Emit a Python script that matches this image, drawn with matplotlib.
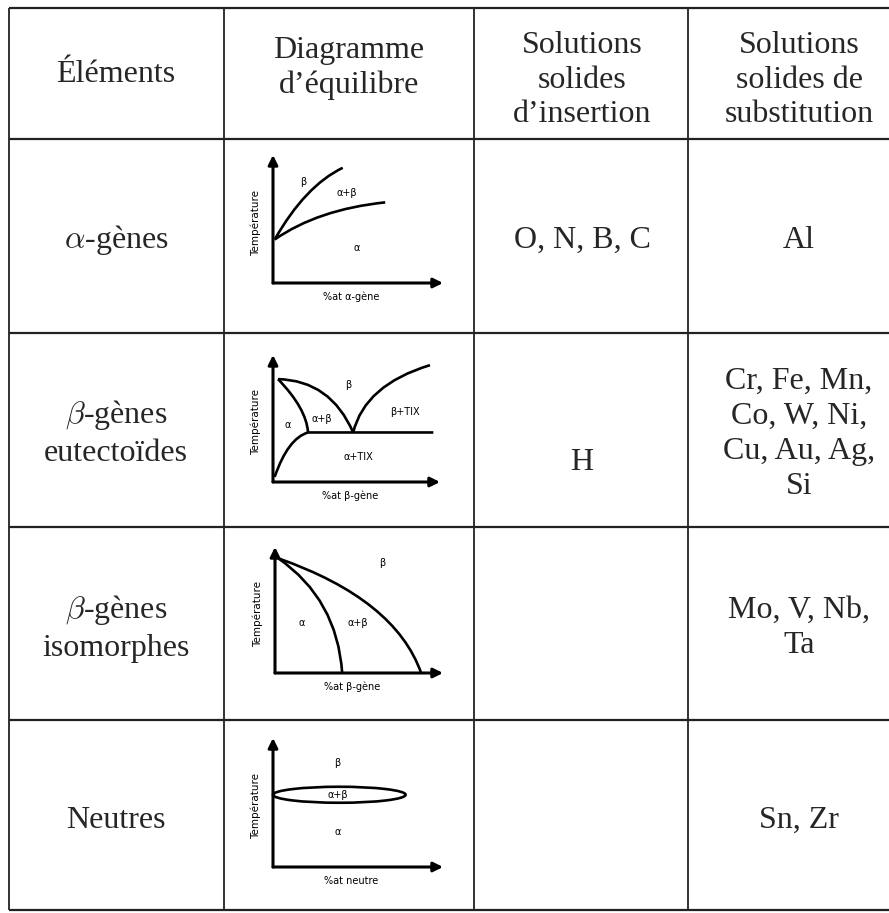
import matplotlib
matplotlib.use("Agg")
import matplotlib.pyplot as plt
from matplotlib.path import Path
from matplotlib.patches import PathPatch, Ellipse

plt.rcParams['font.family'] = ['Liberation Serif', 'DejaVu Serif']
plt.rcParams['mathtext.fontset'] = 'cm'

W, H = 889, 913

# table content
headers = ["Éléments", "Diagramme\nd’équilibre", "Solutions\nsolides\nd’insertion",
           "Solutions\nsolides de\nsubstitution"]
elements = [r"$\alpha$-gènes", "$\\beta$-gènes\neutectoïdes", "$\\beta$-gènes\nisomorphes", "Neutres"]
insertion = ["O, N, B, C", "H", "", ""]
substitution = ["Al", "Cr, Fe, Mn,\nCo, W, Ni,\nCu, Au, Ag,\nSi", "Mo, V, Nb,\nTa", "Sn, Zr"]
xlabels = ["%at α-gène", "%at β-gène", "%at β-gène", "%at neutre"]

# phase boundaries (normalised diagram coords: start, control, end of quadratic curves)
d1_curves = [[(0.01, 0.34), (0.19, 0.76), (0.41, 0.90)],
             [(0.01, 0.34), (0.265, 0.575), (0.66, 0.63)]]
d1_labels = [("β", 0.18, 0.79), ("α+β", 0.435, 0.70), ("α", 0.49, 0.27)]

d2_curves = [[(0.03, 0.81), (0.345, 0.80), (0.48, 0.39)],
             [(0.03, 0.81), (0.20, 0.58), (0.21, 0.39)],
             [(0.01, 0.04), (0.09, 0.345), (0.21, 0.39)],
             [(0.48, 0.39), (0.55, 0.765), (0.94, 0.92)],
             [(0.21, 0.39), (0.585, 0.39), (0.96, 0.39)]]
d2_labels = [("β", 0.45, 0.76), ("α", 0.09, 0.45), ("α+β", 0.29, 0.50),
             ("β+TIX", 0.79, 0.55), ("α+TIX", 0.51, 0.20)]

d3_curves = [[(0.02, 0.91), (0.37, 0.585), (0.40, 0.0)],
             [(0.02, 0.91), (0.715, 0.585), (0.87, 0.0)]]
d3_labels = [("β", 0.64, 0.87), ("α", 0.16, 0.40), ("α+β", 0.49, 0.40)]

d4_lens = (0.39, 0.56, 0.78, 0.124)  # centre x, centre y, width, height
d4_labels = [("β", 0.38, 0.81), ("α+β", 0.38, 0.56), ("α", 0.38, 0.27)]

# layout (pixels)
row_lines = [8, 139, 333, 527, 720, 910]
col_lines = [9, 224, 474, 688]
col_centres = [116, 349, 582, 799]
header_y = [75, 68, 80, 80]
row_y = [240, 433, 628, 820]
insertion_y = [240, 463, 628, 820]
subst_y = [240, 434, 628, 820]
diag_boxes = [(273, 283, 170, 128), (273, 482, 167, 127),
              (275, 673, 168, 126), (273, 867, 170, 129)]

fig = plt.figure(figsize=(W / 100, H / 100), dpi=100)
ax = fig.add_axes([0, 0, 1, 1])
ax.set_xlim(0, W)
ax.set_ylim(H, 0)
ax.axis('off')

ax.hlines(row_lines, 9, W, color='#222222', lw=1.6)
ax.vlines(col_lines, row_lines[0], row_lines[-1], color='#222222', lw=1.3)

fs = 23
ink = '#262626'
for x, yy, t in zip(col_centres, header_y, headers):
    ax.text(x, yy, t, ha='center', va='center', fontsize=fs, linespacing=1.27, color=ink)
for yy, t in zip(row_y, elements):
    ax.text(col_centres[0], yy, t, ha='center', va='center', fontsize=fs, linespacing=1.3, color=ink)
for yy, t in zip(insertion_y, insertion):
    ax.text(col_centres[2], yy, t, ha='center', va='center', fontsize=fs, color=ink)
for yy, t in zip(subst_y, substitution):
    ax.text(col_centres[3], yy, t, ha='center', va='center', fontsize=fs, linespacing=1.27, color=ink)

all_curves = [d1_curves, d2_curves, d3_curves, []]
all_labels = [d1_labels, d2_labels, d3_labels, d4_labels]
sans = ['DejaVu Sans']

for i, (ox, oy, w, h) in enumerate(diag_boxes):
    da = fig.add_axes([ox / W, (H - oy) / H, w / W, h / H])
    da.set_xlim(0, 1)
    da.set_ylim(0, 1)
    da.axis('off')
    arrow = dict(arrowstyle='-|>', lw=2.2, color='black', mutation_scale=14, shrinkA=0, shrinkB=0)
    da.annotate('', xy=(1, 0), xytext=(0, 0), arrowprops=arrow, annotation_clip=False)
    da.annotate('', xy=(0, 1), xytext=(0, 0), arrowprops=arrow, annotation_clip=False)
    for c in all_curves[i]:
        p = Path(c, [Path.MOVETO, Path.CURVE3, Path.CURVE3])
        da.add_patch(PathPatch(p, fill=False, lw=1.9, color='black', clip_on=False))
    if i == 3:
        cx, cy, ew, eh = d4_lens
        da.add_patch(Ellipse((cx, cy), ew, eh, fill=False, lw=1.9, color='black', clip_on=False))
    for t, lx, ly in all_labels[i]:
        da.text(lx, ly, t, ha='center', va='center', fontsize=7, family=sans)
    da.text(-0.10, 0.47, 'Température', rotation=90, ha='center', va='center',
            fontsize=7.5, family=sans, clip_on=False)
    da.text(0.46, -0.11, xlabels[i], ha='center', va='center', fontsize=7, family=sans, clip_on=False)

fig.savefig('out.png', dpi=100)
